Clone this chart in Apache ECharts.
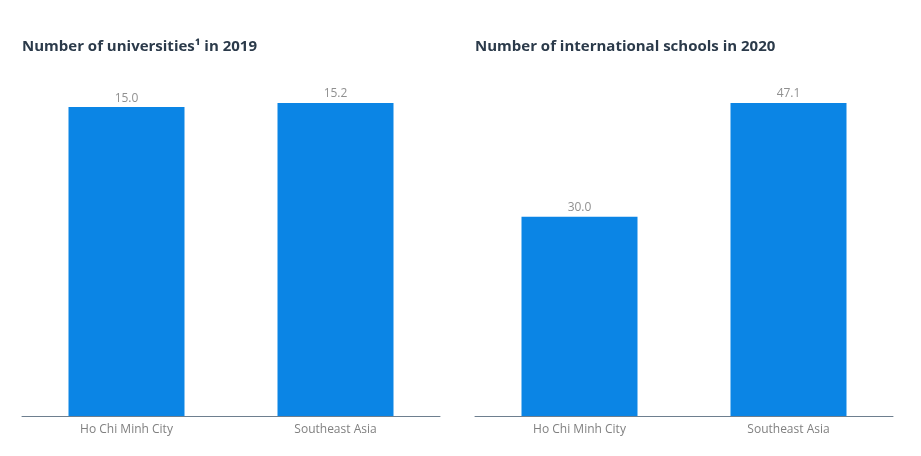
<!DOCTYPE html>
<html>
<head>
<meta charset="utf-8">
<script src="https://cdn.jsdelivr.net/npm/echarts@6/dist/echarts.min.js"></script>
<style>html,body{margin:0;padding:0;background:#fff}#c{width:921px;height:456px}</style>
</head>
<body>
<div id="c"></div>
<script>
var categories = ['Ho Chi Minh City', 'Southeast Asia'];
var universities2019 = [15.0, 15.2];
var intlSchools2020 = [30.0, 47.1];
var titles = ['Number of universities\u00B9 in 2019', 'Number of international schools in 2020'];

var font = '"Open Sans", "Noto Sans", sans-serif';
var barColor = '#0b85e5';
function xAx(i){return {type:'category',gridIndex:i,data:categories,
  axisLine:{lineStyle:{color:'#6e7f8f',width:1}},axisTick:{show:false},
  axisLabel:{color:'#808080',fontSize:12,fontFamily:font,margin:8}};}
function yAx(i,max){return {type:'value',gridIndex:i,min:0,max:max,show:false,splitLine:{show:false}};}
function ser(i,d){return {type:'bar',xAxisIndex:i,yAxisIndex:i,data:d,barWidth:'55.5%',
  itemStyle:{color:barColor},
  label:{show:true,position:'top',distance:3,color:'#909090',fontSize:12,fontFamily:font,
    formatter:function(p){return p.value.toFixed(1);}}};}
var chart = echarts.init(document.getElementById('c'));
chart.setOption({
  animation:false,
  title:[
    {text:titles[0],left:17,top:34,textStyle:{fontSize:15,fontWeight:'bold',color:'#2b3a4a',fontFamily:font}},
    {text:titles[1],left:470,top:34,textStyle:{fontSize:15,fontWeight:'bold',color:'#2b3a4a',fontFamily:font}}
  ],
  grid:[
    {left:22,right:481,top:103,bottom:40},
    {left:475,right:28,top:103,bottom:40}
  ],
  xAxis:[xAx(0),xAx(1)],
  yAxis:[yAx(0,15.2),yAx(1,47.1)],
  series:[ser(0,universities2019),ser(1,intlSchools2020)]
});
</script>
</body>
</html>
